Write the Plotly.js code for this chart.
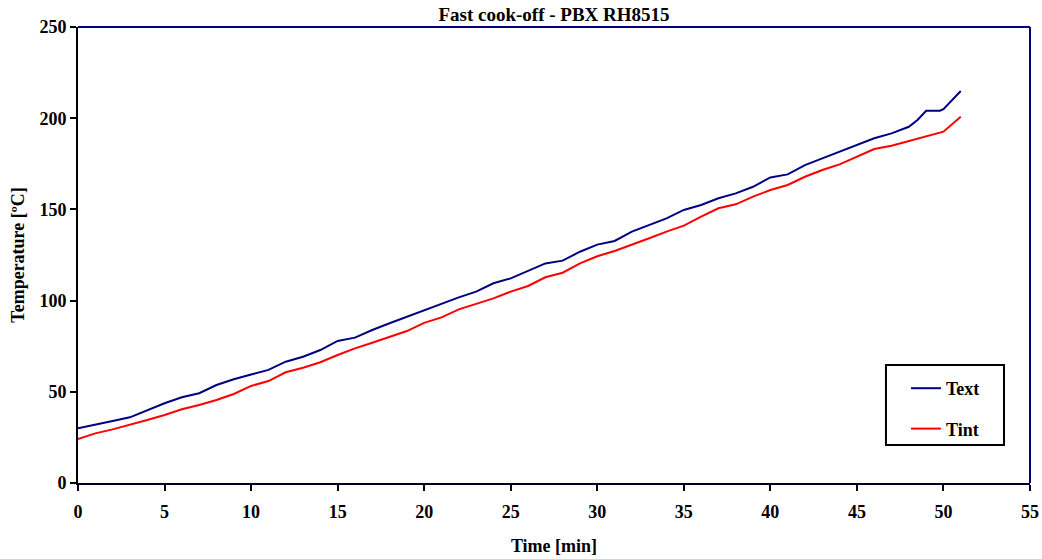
<!DOCTYPE html>
<html>
<head>
<meta charset="utf-8">
<script src="https://cdn.plot.ly/plotly-3.0.1.min.js"></script>
<style>html,body{margin:0;padding:0;background:#fff;}#chart{width:1042px;height:559px;}</style>
</head>
<body>
<div id="chart"></div>
<script>
const timeText = [0,1,2,3,4,5,6,7,8,9,10,11,12,13,14,15,16,17,18,19,20,21,22,23,24,25,26,27,28,29,30,31,32,33,34,35,36,37,38,39,40,41,42,43,44,45,46,47,48,48.5,49,49.8,50,51];
const tempText = [30.0,32.2,34.0,36.0,40.0,43.7,47.0,49.2,53.7,56.9,59.5,62.0,66.5,69.2,72.9,77.9,79.7,83.9,87.6,91.2,94.5,98.1,101.8,104.9,109.5,112.2,116.4,120.4,121.9,126.8,130.7,132.7,137.8,141.4,145.1,149.7,152.4,156.1,158.8,162.4,167.5,169.2,174.3,178.0,181.6,185.3,189.0,191.7,195.3,199.0,204.1,204.1,205.0,214.9];
const timeTint = [0,1,2,3,4,5,6,7,8,9,10,11,12,13,14,15,16,17,18,19,20,21,22,23,24,25,26,27,28,29,30,31,32,33,34,35,36,37,38,39,40,41,42,43,44,45,46,47,48,49,50,51];
const tempTint = [24.1,27.2,29.4,31.8,34.5,37.3,40.4,42.8,45.5,48.8,53.2,55.9,60.7,63.2,66.2,70.2,73.8,76.9,80.2,83.3,87.8,90.8,95.2,98.1,101.2,104.9,108.0,112.8,115.3,120.4,124.3,127.2,130.5,134.2,137.8,141.1,146.0,150.6,152.8,157.0,160.6,163.4,167.9,171.6,174.7,178.9,183.1,184.9,187.5,189.9,192.6,200.8];
const xTicks = [0,5,10,15,20,25,30,35,40,45,50,55];
const yTicks = [0,50,100,150,200,250];

const F = "'Liberation Serif', 'Times New Roman', serif";
const data = [
  {x: timeText, y: tempText, mode: 'lines', name: '<b>Text</b>', legendgroup: 'a',
   line: {color: '#000080', width: 2}},
  {x: timeTint, y: tempTint, mode: 'lines', name: '<b>Tint</b>', legendgroup: 'b',
   line: {color: '#ff0000', width: 2}}
];
const layout = {
  width: 1042, height: 559,
  margin: {l: 78, r: 12, t: 27, b: 76},
  paper_bgcolor: '#fff', plot_bgcolor: '#fff',
  font: {family: F, size: 18, color: '#000'},
  title: {text: '<b>Fast cook-off - PBX RH8515</b>', font: {family: F, size: 19, color: '#000'},
          x: 0.5, xref: 'paper', y: 0.975, yanchor: 'middle'},
  xaxis: {range: [0, 55], tickvals: xTicks, ticktext: xTicks.map(v => '<b>' + v + '</b>'),
          showgrid: false, zeroline: false, showline: true, linecolor: '#000020', linewidth: 2,
          ticks: 'outside', ticklen: 6, tickwidth: 2, tickcolor: '#000020', ticklabelstandoff: 5,
          tickfont: {family: F, size: 18},
          title: {text: '<b>Time [min]</b>', font: {family: F, size: 18}, standoff: 19}},
  yaxis: {range: [0, 250], tickvals: yTicks, ticktext: yTicks.map(v => '<b>' + v + '</b>'),
          showgrid: false, zeroline: false, showline: true, linecolor: '#000', linewidth: 2,
          ticks: 'outside', ticklen: 6, tickwidth: 2, tickcolor: '#000',
          tickfont: {family: F, size: 18},
          title: {text: '<b>Temperature [ºC]</b>', font: {family: F, size: 18}, standoff: 10}},
  shapes: [
    {type: 'line', xref: 'paper', yref: 'paper', x0: 0, x1: 1, y0: 1, y1: 1, line: {color: '#000080', width: 2}},
    {type: 'line', xref: 'paper', yref: 'paper', x0: 1, x1: 1, y0: 0, y1: 1, line: {color: '#000080', width: 2}},
    {type: 'rect', xref: 'paper', yref: 'paper', x0: 0.8487, x1: 0.9727, y0: 0.0833, y1: 0.2588,
     line: {color: '#000', width: 2}, fillcolor: 'rgba(0,0,0,0)'}
  ],
  showlegend: true,
  legend: {x: 0.8697, y: 0.2478, xanchor: 'left', yanchor: 'top', bgcolor: 'rgba(0,0,0,0)',
           borderwidth: 0, tracegroupgap: 14, itemwidth: 30,
           font: {family: F, size: 18, color: '#000'}}
};
Plotly.newPlot('chart', data, layout, {displayModeBar: false, staticPlot: true});
</script>
</body>
</html>
